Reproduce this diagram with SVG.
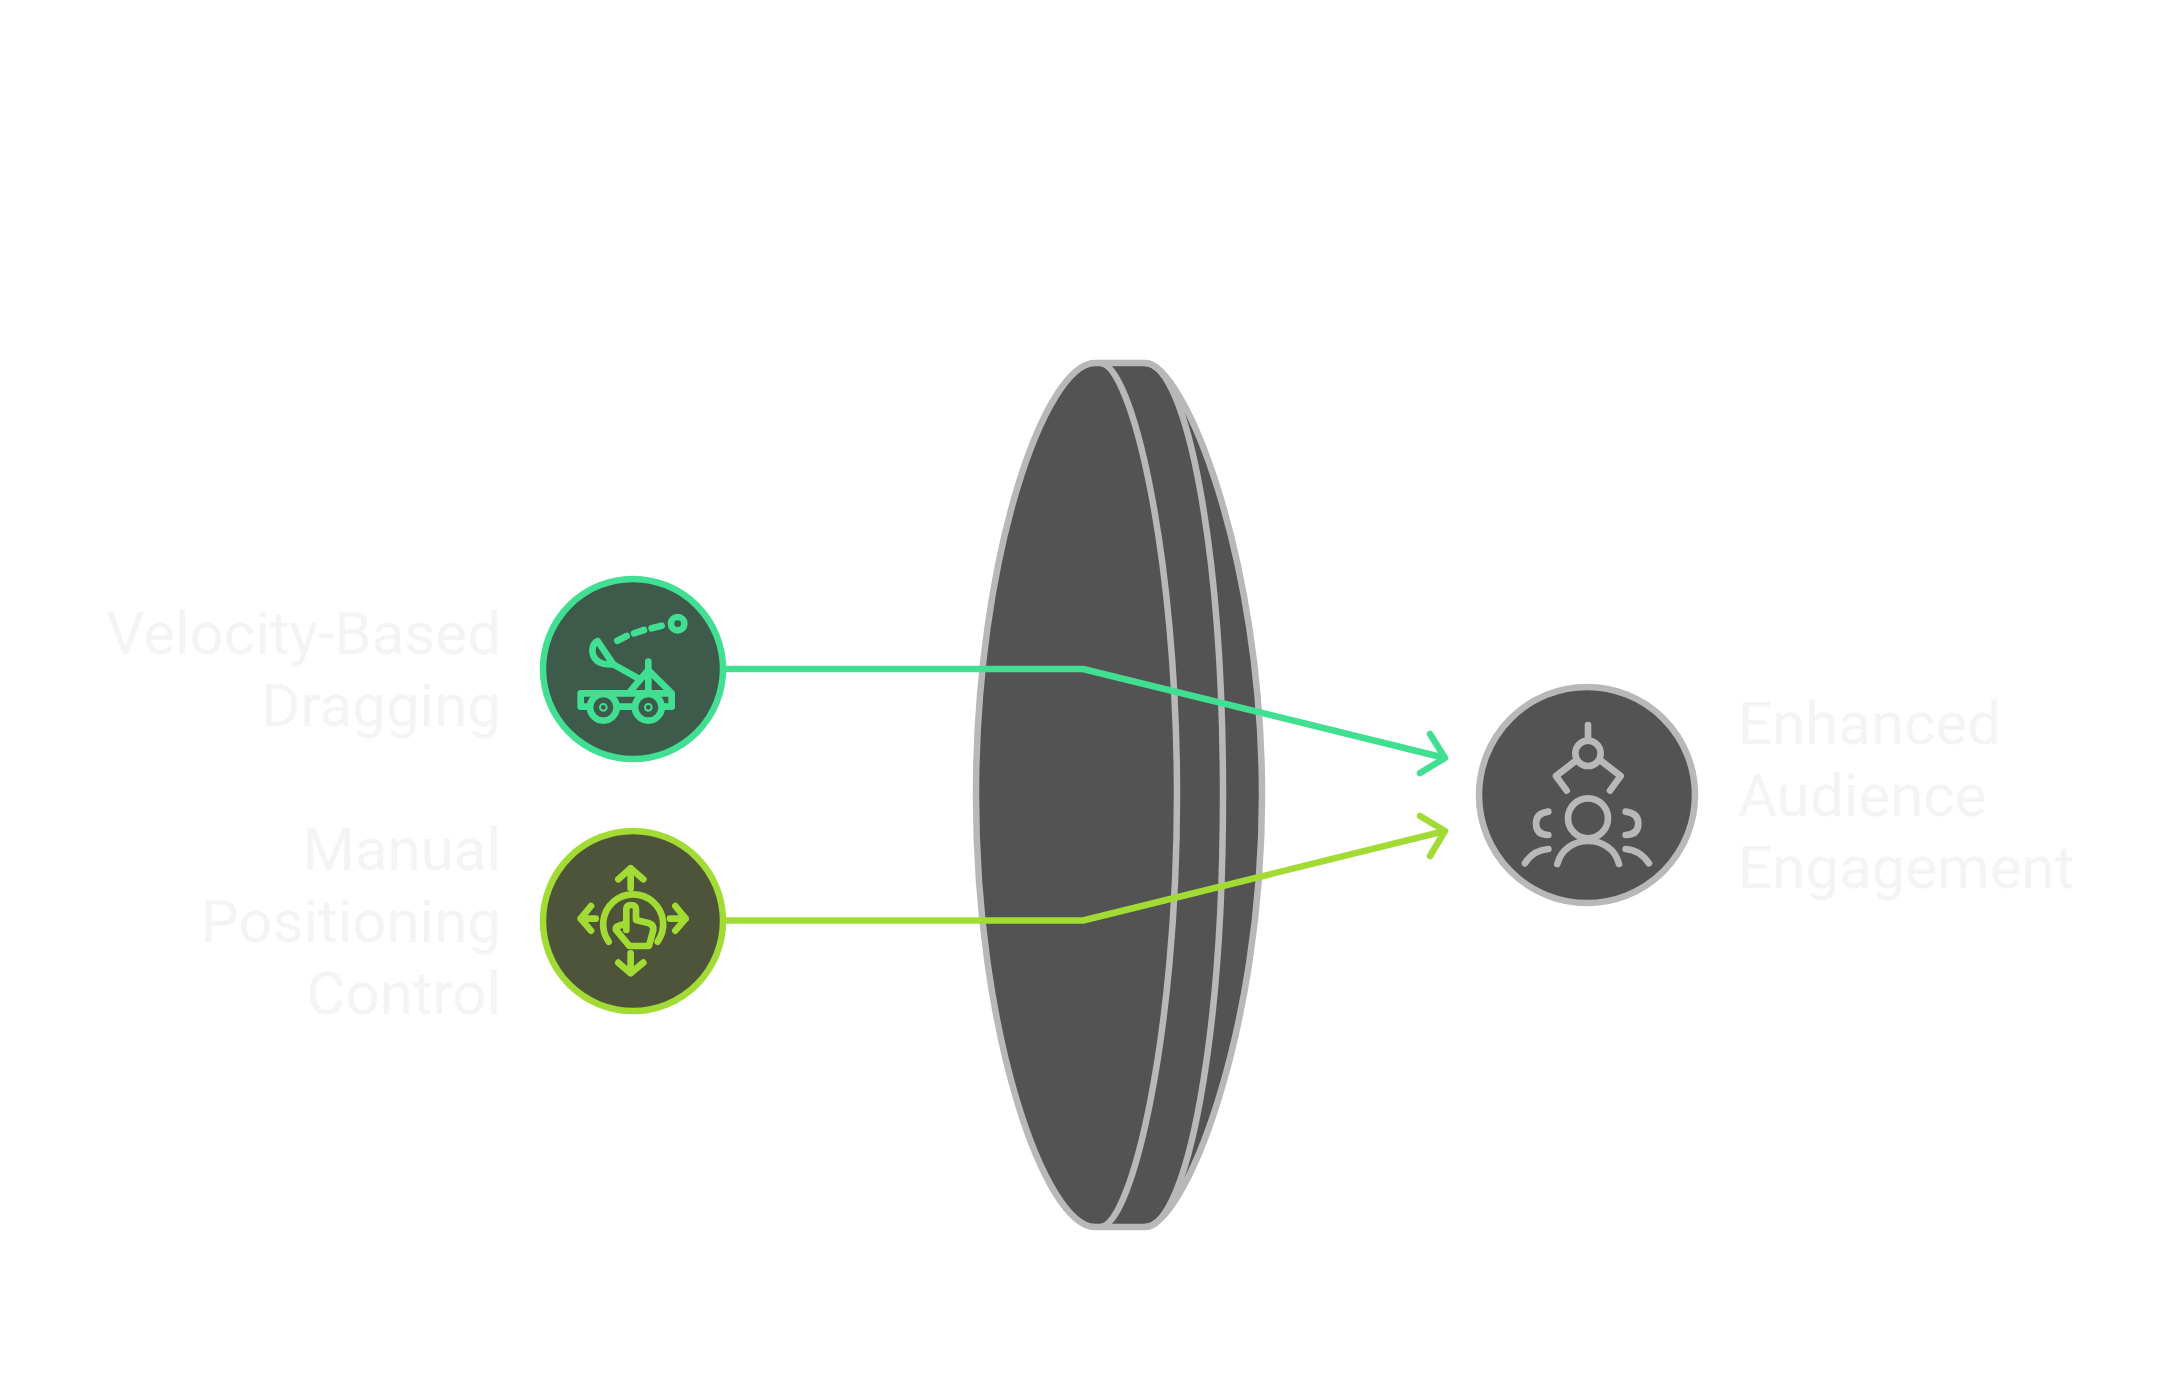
<svg xmlns="http://www.w3.org/2000/svg" width="2166" height="1374" viewBox="0 0 2166 1374">
<style>
.t{font-family:Roboto,"Liberation Sans",sans-serif;font-size:60px;fill:#f4f4f4}
.e{text-anchor:end}
.lens{fill:#535353;stroke:#b8b8b8;stroke-width:6.500;stroke-linejoin:round}
.arc{fill:none;stroke:#b8b8b8;stroke-width:6.500}
.c{fill:none;stroke-width:6.500;stroke-linecap:round;stroke-linejoin:round}
.i{fill:none;stroke-width:20;stroke-linecap:round;stroke-linejoin:round}
.g{stroke:#40df92}
.l{stroke:#a2db34}
.y{stroke:#b8b8b8}
</style>
<g id="lens">
<path class="lens" d="M1095,363H1145C1184,363 1262,557 1262,795C1262,1033 1184,1227 1145,1227H1095C1045,1227 976,1033 976,795C976,557 1045,363 1095,363Z"/>
<path class="arc" d="M1145,363C1188,363 1223,557 1223,795C1223,1033 1188,1227 1145,1227"/>
<path class="arc" d="M1100,363C1132,363 1177,557 1177,795C1177,1033 1132,1227 1100,1227"/>
</g>
<g id="connectors">
<path class="c g" d="M724,669H1083L1441,757"/>
<path class="c g" d="M1430,734L1445,758L1420,773"/>
<path class="c l" d="M724,920.500H1083L1441,832"/>
<path class="c l" d="M1420,816L1445,831L1430,856"/>
</g>
<g id="node-velocity">
<circle cx="633" cy="669" r="90" fill="#3d5a4a" stroke="#40df92" stroke-width="6.500"/>
<g transform="translate(530,570) scale(.3333)" class="i g">
<circle cx="443" cy="161" r="20"/>
<path d="M262,212L290,198M312,190L342,180M365,175L395,167"/>
<path d="M203,213C176,225 178,290 250,283Z"/>
<path d="M250,283L325,325M355,275V365M300,365L355,300L420,365"/>
<path d="M175,410H152V370H425V410H400M265,410H310"/>
<circle cx="220" cy="412" r="40"/>
<circle cx="355" cy="412" r="40"/>
<circle cx="220" cy="412" r="3"/>
<circle cx="355" cy="412" r="3"/>
</g>
<text class="t e" x="501" y="654">Velocity-Based</text>
<text class="t e" x="501" y="726">Dragging</text>
</g>
<g id="node-manual">
<circle cx="633" cy="921" r="90" fill="#4e543a" stroke="#a2db34" stroke-width="6.500"/>
<g transform="translate(530,820) scale(.3333)" class="i l">
<path d="M302,205V145M265,178L302,145L340,178"/>
<path d="M197,296H152M183,258L152,296L183,332"/>
<path d="M420,296H467M436,258L467,296L436,332"/>
<path d="M302,400V460M265,428L302,460L340,428"/>
<path d="M236,365A90,90 0 1 1 383,365"/>
<path d="M289,310V268Q289,255 303,255Q318,255 318,268V300L358,310Q372,315 370,330L357,378H298L258,330Q255,320 265,318L289,310V330"/>
</g>
<text class="t e" x="501" y="870">Manual</text>
<text class="t e" x="501" y="942">Positioning</text>
<text class="t e" x="501" y="1014">Control</text>
</g>
<g id="node-enhanced">
<circle cx="1587" cy="795" r="108" fill="#535353" stroke="#b8b8b8" stroke-width="6.500"/>
<g transform="translate(1470,680) scale(.3333)" class="i y">
<path d="M354,135V180"/>
<circle cx="354" cy="220" r="38"/>
<path d="M320,240L258,288L290,332M390,240L452,288L420,332"/>
<circle cx="354" cy="415" r="60"/>
<path d="M262,552C285,460 425,460 447,552"/>
<path d="M235,395Q198,400 198,430Q198,465 235,465M467,395Q505,400 505,430Q505,465 467,465"/>
<path d="M165,550Q190,510 235,507M467,507Q510,510 537,550"/>
</g>
<text class="t" x="1738" y="744">Enhanced</text>
<text class="t" x="1738" y="816">Audience</text>
<text class="t" x="1738" y="888">Engagement</text>
</g>
</svg>
